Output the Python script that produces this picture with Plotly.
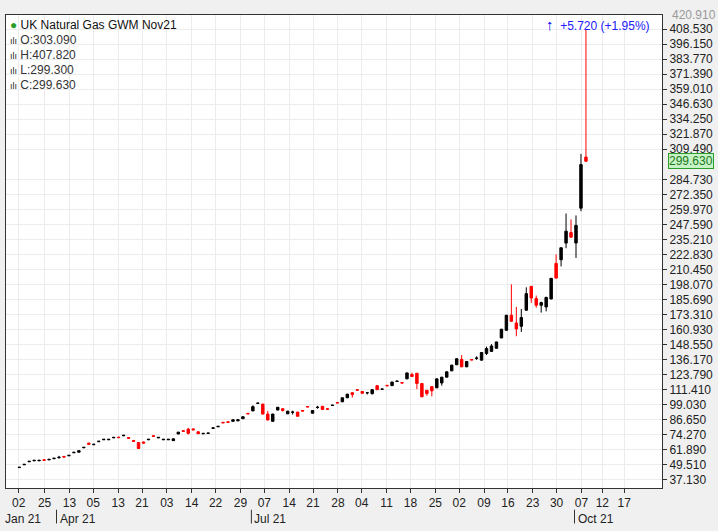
import plotly.graph_objects as go

# ---- data ----
opens = [47.3,49.6,52.1,52.9,52.9,53.7,53.7,54.6,55.4,56.5,57.0,59.5,60.0,63.6,67.5,66.1,68.6,70.2,70.2,71.8,72.4,73.5,72.0,69.6,68.0,68.4,70.2,73.5,71.8,70.2,70.2,69.5,75.0,77.6,79.0,79.2,76.8,75.1,75.4,79.6,80.9,84.6,85.0,85.4,85.8,87.6,92.0,
          94.0,100.2,99.6,91.4,85.4,94.7,95.8,91.6,92.9,93.0,94.3,97.6,92.1,96.8,97.8,95.8,98.5,100.9,101.5,104.8,109.0,111.4,110.0,108.9,108.2,114.8,111.8,115.1,114.8,118.2,117.3,120.4,124.0,125.0,116.6,111.0,114.0,113.0,117.0,121.8,127.0,132.0,136.4,130.3,136.3,137.3,
          135.8,141.3,143.0,145.6,154.1,160.4,172.8,166.4,163.7,176.9,196.6,186.5,181.0,179.6,186.2,215.5,218.5,232.2,240.9,232.3,261.0,303.09]
closes = [47.6,50.0,52.5,53.3,53.3,53.3,54.1,55.0,55.8,56.0,57.4,59.9,61.2,64.0,66.5,66.5,69.0,70.6,70.6,72.2,72.0,73.9,71.5,69.0,63.0,67.5,70.6,73.0,72.2,70.6,70.6,71.0,76.5,77.2,75.5,78.4,75.2,75.5,75.7,80.0,81.3,84.2,84.6,86.7,86.7,89.2,91.6,
          97.5,100.4,91.4,86.5,91.4,97.0,94.3,93.8,93.0,89.6,93.9,97.3,94.3,97.0,95.2,95.4,98.7,100.6,104.8,107.8,107.5,111.1,108.5,109.0,111.5,111.5,112.0,114.7,117.8,118.5,117.0,125.3,122.3,116.6,105.6,108.3,110.5,120.4,121.8,126.2,131.7,137.0,130.3,134.7,136.0,137.5,
          142.1,145.4,147.5,150.8,161.3,172.8,167.8,161.5,170.9,190.6,187.0,181.0,183.2,187.5,203.2,203.4,228.4,242.0,237.1,246.8,296.9,299.63]
highs = [47.8,50.2,52.7,53.5,53.5,53.9,54.3,55.2,57.0,56.9,57.6,60.1,61.4,64.2,67.7,66.7,69.2,70.8,70.8,72.4,72.6,74.1,72.2,69.8,68.2,68.6,70.8,73.7,72.4,70.8,70.8,71.2,76.7,77.8,80.0,79.4,77.0,75.7,76.3,80.2,81.5,84.8,85.2,86.9,86.9,89.4,92.2,
          98.6,100.6,99.8,94.0,91.6,97.2,96.0,94.0,94.2,93.2,94.5,97.8,94.5,98.2,98.0,96.0,98.9,101.1,105.0,108.0,109.2,111.6,110.2,109.2,111.7,115.0,112.2,115.3,118.0,119.0,117.5,125.5,125.5,125.2,116.8,111.2,114.2,120.6,122.0,126.4,131.9,137.2,140.0,134.9,136.5,139.0,
          142.3,147.0,149.0,151.0,161.5,173.0,198.2,179.6,178.0,195.8,196.8,189.0,184.0,188.0,203.4,222.9,228.6,256.6,251.7,255.0,305.7,407.82]
lows = [47.1,49.4,51.9,52.7,52.7,53.1,53.5,54.4,54.8,55.8,56.8,59.3,59.8,63.4,66.3,65.9,68.4,70.0,70.0,71.6,71.8,73.3,71.3,68.8,62.8,67.3,70.0,72.8,71.6,70.0,70.0,69.3,74.8,77.0,74.5,78.2,75.0,74.9,75.2,79.4,80.7,84.0,84.4,85.2,85.6,87.4,91.4,
          93.8,100.2,91.2,86.3,85.2,94.5,93.5,91.4,91.0,89.4,93.7,97.1,91.9,95.8,95.0,95.2,98.3,100.4,101.3,104.6,105.0,110.9,108.3,107.5,107.5,111.3,111.8,114.5,114.6,118.3,116.8,120.2,122.1,111.9,105.4,106.5,106.0,112.8,114.8,121.6,126.8,131.8,130.1,130.1,135.8,136.0,
          135.6,140.0,142.8,145.4,153.9,160.2,167.6,155.5,159.0,176.7,183.0,179.0,175.0,176.0,186.0,203.2,213.0,228.0,236.5,220.0,258.5,299.3]
ytick_vals = [37.13,49.51,61.89,74.27,86.65,99.03,111.41,123.79,136.17,148.55,160.93,173.31,185.69,198.07,210.45,222.83,235.21,247.59,259.97,272.35,284.73,309.49,321.87,334.25,346.63,359.01,371.39,383.77,396.15,408.53]
xtick_pos = [-0.1,5.1,10.1,14.9,19.9,24.7,29.7,34.7,39.5,44.5,49.3,54.3,59.1,64.1,68.9,73.9,78.7,83.7,88.5,93.5,98.3,103.3,108.1,113.1,117.3,121.7]
xtick_text = ["02","25","13","05","13","21","03","14","22","29","07","14","21","28","04","11","18","25","02","09","16","23","30","07","12","17"]
month_pos = [7.5,46.7,111.7]
month_text = ["Apr 21","Jul 21","Oct 21"]

x = list(range(len(opens)))

fig = go.Figure(go.Candlestick(
    x=x, open=opens, high=highs, low=lows, close=closes,
    increasing=dict(line=dict(color="black", width=1), fillcolor="black"),
    decreasing=dict(line=dict(color="red", width=1), fillcolor="red"),
    whiskerwidth=0, showlegend=False, hoverinfo="skip"))

font = "Liberation Sans"
fig.update_layout(
    width=718, height=531,
    margin=dict(l=5, r=53, t=15, b=43),
    paper_bgcolor="#f0f0f0", plot_bgcolor="white",
    font=dict(family=font, size=12, color="#222"),
    xaxis=dict(range=[-2.66, 129.3], rangeslider=dict(visible=False),
               tickmode="array", tickvals=xtick_pos, ticktext=xtick_text,
               showgrid=True, gridcolor="#ececec", ticks="outside", ticklen=4,
               tickcolor="#333", showline=True, linecolor="#333", mirror=True,
               zeroline=False, tickfont=dict(size=12)),
    yaxis=dict(side="right", range=[30.5, 420.1], tickmode="array",
               tickvals=ytick_vals, ticktext=[f"{v:.3f}" for v in ytick_vals],
               showgrid=True, gridcolor="#ececec", ticks="outside", ticklen=4,
               tickcolor="#333", showline=True, linecolor="#333", mirror=True,
               zeroline=False, tickfont=dict(size=12)),
)

ann = []
for p, t in zip(month_pos, month_text):
    ann.append(dict(x=p, y=-0.046, xref="x", yref="paper", text=t, showarrow=False,
                    xanchor="left", yanchor="top", xshift=1, font=dict(size=12)))
    fig.add_shape(type="line", x0=p, x1=p, y0=-0.046, y1=-0.075, xref="x", yref="paper",
                  line=dict(color="#333", width=1))
ann.append(dict(x=0, xref="paper", y=-0.046, yref="paper", text="Jan 21", showarrow=False,
                xanchor="left", yanchor="top", xshift=-3, font=dict(size=12)))
ann.append(dict(x=1, xref="paper", y=1, yref="paper", text="420.910", showarrow=False,
                xanchor="left", yanchor="middle", xshift=8, font=dict(size=12, color="#999")))
ann.append(dict(x=0, xref="paper", y=1, yref="paper", text="<span style='color:#2a9d2a'>●</span> UK Natural Gas GWM Nov21",
                showarrow=False, xanchor="left", yanchor="top", xshift=2, yshift=-1, font=dict(size=12, color="#111")))
for i, (lab, val) in enumerate(zip(["O", "H", "L", "C"], [opens[-1], highs[-1], lows[-1], closes[-1]])):
    ann.append(dict(x=0, xref="paper", y=1, yref="paper",
                    text=f"<span style='color:#222;font-size:9px'>ılı</span> {lab}:{val:.3f}",
                    showarrow=False, xanchor="left", yanchor="top", xshift=2, yshift=-16 - 15 * i,
                    font=dict(size=12, color="#333")))
ann.append(dict(x=1, xref="paper", y=1, yref="paper",
                text="<b><span style='font-size:15px;color:#0000ee'>↑</span></b>  +5.720 (+1.95%)",
                showarrow=False, xanchor="right", yanchor="top", xshift=-10, yshift=1,
                font=dict(size=12, color="#2020ff")))
ann.append(dict(x=1, xref="paper", y=closes[-1], yref="y", text="299.630", showarrow=False,
                xanchor="left", yanchor="middle", xshift=6, bgcolor="#c6f2c6",
                bordercolor="#2a9d2a", borderwidth=1, borderpad=0, font=dict(size=12, color="#1a7a1a")))
fig.update_layout(annotations=ann)
fig.write_html("out.html", config={"displayModeBar": False},
               post_script="document.body.style.margin='0';document.body.style.overflow='hidden';")
